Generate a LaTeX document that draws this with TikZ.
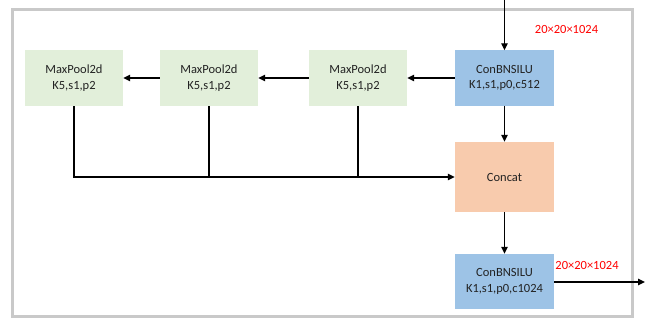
\documentclass[tikz,border=0pt]{standalone}
\usepackage{fontspec}
\setmainfont{Carlito}
\usepackage{xcolor}
\definecolor{poolGreen}{HTML}{E2EFDA}
\definecolor{convBlue}{HTML}{9DC3E6}
\definecolor{catOrange}{HTML}{F8CBAD}
\definecolor{frameGray}{HTML}{C9C9C9}
\definecolor{darkText}{HTML}{222222}
\usetikzlibrary{arrows.meta, positioning, calc}
\tikzset{
    % Base style for all blocks
    block base/.style={
        font=\fontsize{12.5}{15.5}\selectfont,
        align=center,
        text=darkText,
        draw=none,
        inner sep=0pt,
        minimum width=99pt,
        minimum height=56pt,
    },
    % MaxPool blocks - light green
    pool/.style={
        block base,
        fill=poolGreen,
        minimum width=98pt,
    },
    % Conv blocks - soft blue
    conv/.style={
        block base,
        fill=convBlue,
        minimum height=55pt,
    },
    % Concat block - light orange
    concat/.style={
        block base,
        fill=catOrange,
        minimum height=70pt,
    },
    % Plain black arrow
    arrow/.style={
        -{Triangle[length=7pt, width=6.5pt]},
        line width=1.3pt,
        draw=black,
    },
    % Plain black line
    join line/.style={
        line width=1.3pt,
        draw=black,
    },
    % Feature size label
    size label/.style={
        font=\fontsize{12.5}{15}\selectfont,
        text=red,
        inner sep=0pt,
    },
}

\begin{document}
\begin{tikzpicture}[x=1pt, y=-1pt]
    \useasboundingbox (0,0) rectangle (655,321);
    % outer frame
    \draw [frameGray, line width=3pt] (12,10) rectangle (632,316);

    \node (conv1) [conv] at (504.5,78) {ConBNSILU\\K1,s1,p0,c512};
    \node (pool3) [pool] at (358,78) {MaxPool2d\\K5,s1,p2};
    \node (pool2) [pool] at (209,78) {MaxPool2d\\K5,s1,p2};
    \node (pool1) [pool] at (74,78) {MaxPool2d\\K5,s1,p2};
    \node (concat) [concat] at (504.5,177) {Concat};
    \node (conv2) [conv] at (504.5,281.5) {ConBNSILU\\K1,s1,p0,c1024};

    \coordinate (in) at (504.5,0);
    \coordinate (out) at (645,282);
    \node (size1) [size label] at (566.5,29) {20×20×1024};
    \node (size2) [size label] at (587,265) {20×20×1024};

    \draw [arrow] (in) -- (conv1);
    \draw [arrow] (conv1) -- (pool3);
    \draw [arrow] (pool3) -- (pool2);
    \draw [arrow] (pool2) -- (pool1);
    \draw [arrow] (conv1) -- (concat);
    \draw [arrow] (pool1.south) |- (concat.west);
    \draw [join line] (pool2.south) -- (pool2.south |- concat.west);
    \draw [join line] (pool3.south) -- (pool3.south |- concat.west);
    \draw [arrow] (concat) -- (conv2);
    \draw [arrow] (conv2.east |- out) -- (out);
\end{tikzpicture}
\end{document}
